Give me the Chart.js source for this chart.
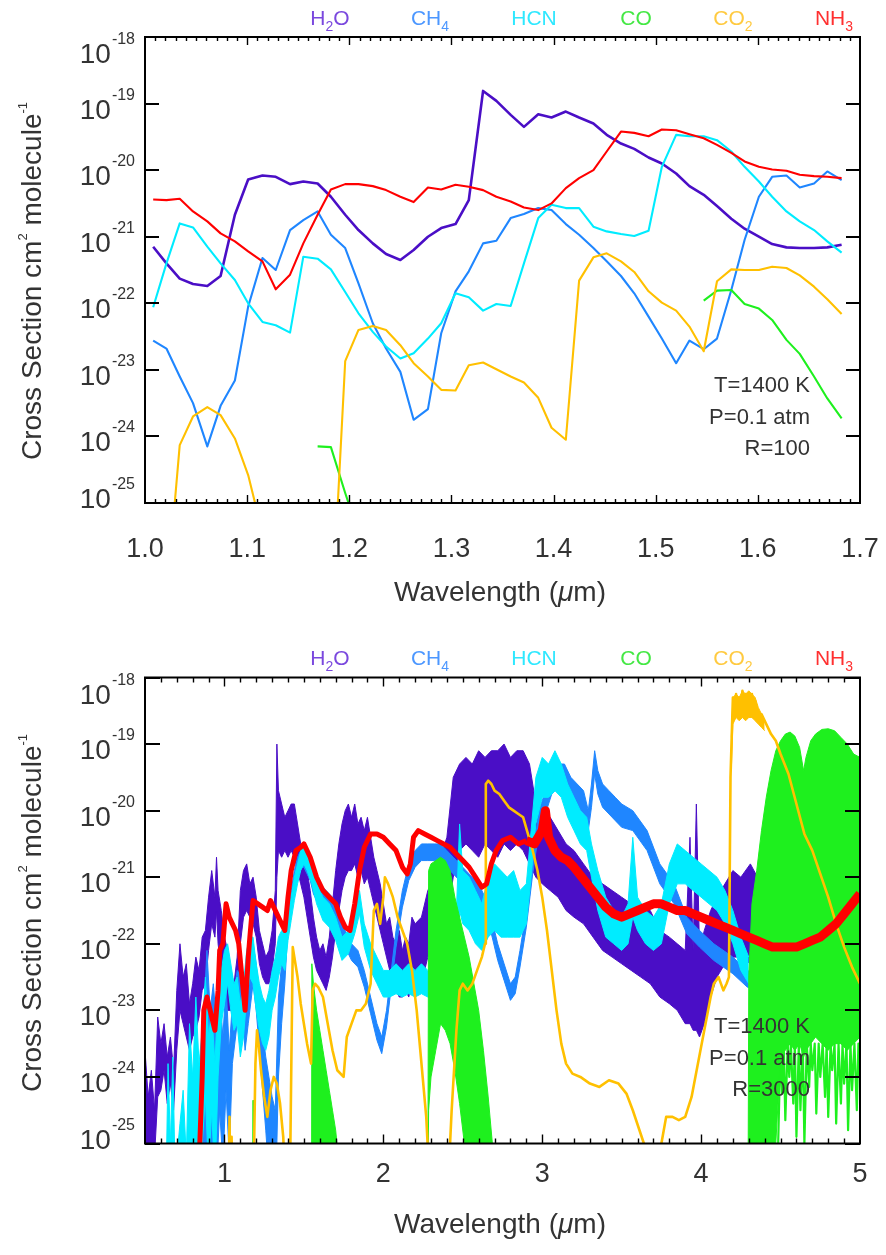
<!DOCTYPE html>
<html>
<head>
<meta charset="utf-8">
<script src="https://cdn.jsdelivr.net/npm/chart.js@4.4.1/dist/chart.umd.min.js"></script>
<style>
  html, body { margin: 0; padding: 0; background: #fff; }
  body { width: 886px; height: 1255px; position: relative; overflow: hidden; }
  canvas { position: absolute; left: 0; }
  #topChart { top: 0; }
  #botChart { top: 620px; }
</style>
</head>
<body>
<canvas id="topChart" width="886" height="620" style="width:886px;height:620px"></canvas>
<canvas id="botChart" width="886" height="635" style="width:886px;height:635px"></canvas>
<script>
// ---------------------------------------------------------------
// Molecular cross sections, T = 1400 K, P = 0.1 atm.
// All cross sections are stored as log10(sigma / cm^2 molecule^-1).
// ---------------------------------------------------------------

const speciesLabels = ['H2O', 'CH4', 'HCN', 'CO', 'CO2', 'NH3'];

// ---------- Panel 1: R = 100, 1.0 - 1.7 um ----------
const topWl = [
  1.008, 1.021, 1.034, 1.047, 1.061, 1.074, 1.088, 1.101, 1.115, 1.128,
  1.142, 1.155, 1.169, 1.182, 1.196, 1.209, 1.223, 1.236, 1.250, 1.263,
  1.277, 1.290, 1.304, 1.317, 1.331, 1.344, 1.358, 1.371, 1.385, 1.398,
  1.412, 1.425, 1.439, 1.452, 1.466, 1.479, 1.493, 1.506, 1.520, 1.533,
  1.547, 1.560, 1.574, 1.587, 1.601, 1.614, 1.628, 1.641, 1.655, 1.668,
  1.682
];
const h2oTop = [
  -21.15, -21.40, -21.63, -21.71, -21.74, -21.59, -20.67, -20.14, -20.08, -20.10,
  -20.21, -20.17, -20.20, -20.40, -20.67, -20.90, -21.10, -21.26, -21.35, -21.20,
  -21.00, -20.87, -20.81, -20.45, -18.81, -18.96, -19.17, -19.35, -19.16, -19.21,
  -19.12, -19.21, -19.30, -19.47, -19.60, -19.68, -19.81, -19.90, -20.05, -20.24,
  -20.37, -20.54, -20.73, -20.88, -21.00, -21.11, -21.16, -21.17, -21.17, -21.16,
  -21.12
];
const ch4Top = [
  -22.56, -22.68, -23.10, -23.50, -24.15, -23.54, -23.16, -22.05, -21.32, -21.50,
  -20.90, -20.75, -20.62, -20.97, -21.17, -21.70, -22.30, -22.68, -23.03, -23.75,
  -23.59, -22.45, -21.82, -21.52, -21.10, -21.06, -20.72, -20.66, -20.57, -20.60,
  -20.81, -20.97, -21.17, -21.37, -21.59, -21.85, -22.20, -22.53, -22.90, -22.56,
  -22.69, -22.53, -21.80, -21.05, -20.40, -20.10, -20.08, -20.26, -20.20, -20.02,
  -20.15
];
const hcnTop = [
  -22.06, -21.40, -20.80, -20.86, -21.15, -21.40, -21.65, -22.00, -22.28, -22.33,
  -22.44, -21.30, -21.33, -21.49, -21.83, -22.15, -22.43, -22.65, -22.83, -22.75,
  -22.53, -22.30, -21.85, -21.91, -22.11, -22.01, -22.04, -21.40, -20.72, -20.52,
  -20.57, -20.57, -20.85, -20.92, -20.96, -20.99, -20.91, -19.95, -19.47, -19.49,
  -19.49, -19.55, -19.72, -19.95, -20.17, -20.40, -20.62, -20.77, -20.90, -21.07,
  -21.24
];
const coTop = [
  null, null, null, null, null, null, null, null, null, null,
  null, null, -24.15, -24.16, -24.85, -25.45, null, null, null, null,
  null, null, null, null, null, null, null, null, null, null,
  null, null, null, null, null, null, null, null, null, null,
  -21.96, -21.81, -21.80, -22.01, -22.08, -22.25, -22.55, -22.76, -23.10, -23.43,
  -23.73
];
const co2Top = [
  null, -26.45, -24.13, -23.70, -23.56, -23.68, -24.03, -24.58, -25.45, null,
  null, null, null, -27.00, -22.87, -22.40, -22.34, -22.40, -22.63, -22.90,
  -23.10, -23.30, -23.31, -22.93, -22.89, -22.99, -23.10, -23.19, -23.42, -23.87,
  -24.05, -21.66, -21.31, -21.25, -21.37, -21.53, -21.82, -21.99, -22.11, -22.35,
  -22.72, -21.67, -21.49, -21.50, -21.50, -21.45, -21.47, -21.58, -21.75, -21.94,
  -22.16
];
const nh3Top = [
  -20.44, -20.45, -20.43, -20.62, -20.77, -20.95, -21.07, -21.22, -21.37, -21.79,
  -21.57, -21.10, -20.67, -20.29, -20.21, -20.21, -20.24, -20.30, -20.40, -20.48,
  -20.26, -20.29, -20.22, -20.25, -20.30, -20.40, -20.47, -20.56, -20.60, -20.50,
  -20.27, -20.12, -20.00, -19.72, -19.42, -19.44, -19.49, -19.39, -19.40, -19.46,
  -19.52, -19.62, -19.74, -19.87, -19.95, -19.99, -20.01, -20.07, -20.09, -20.10,
  -20.12
];

// ---------- Panel 2: R = 3000, 0.5 - 5 um (upper / lower envelopes) ----------
const h2oBotWl = [
  0.50, 0.52, 0.54, 0.56, 0.58, 0.60, 0.62, 0.64, 0.66, 0.68,
  0.70, 0.72, 0.74, 0.76, 0.78, 0.80, 0.82, 0.84, 0.86, 0.88,
  0.90, 0.92, 0.94, 0.95, 0.96, 0.98, 1.00, 1.02, 1.04, 1.06,
  1.08, 1.10, 1.12, 1.14, 1.16, 1.18, 1.20, 1.22, 1.24, 1.26,
  1.28, 1.30, 1.32, 1.33, 1.34, 1.36, 1.38, 1.40, 1.42, 1.44,
  1.46, 1.48, 1.50, 1.52, 1.54, 1.56, 1.58, 1.60, 1.62, 1.64,
  1.66, 1.68, 1.70, 1.72, 1.74, 1.76, 1.78, 1.80, 1.82, 1.84,
  1.86, 1.88, 1.90, 1.92, 1.94, 1.96, 1.98, 2.00, 2.02, 2.04,
  2.06, 2.08, 2.10, 2.12, 2.14, 2.16, 2.18, 2.20, 2.24, 2.28,
  2.32, 2.36, 2.40, 2.44, 2.48, 2.52, 2.56, 2.60, 2.64, 2.68,
  2.72, 2.76, 2.80, 2.84, 2.88, 2.92, 2.96, 3.00, 3.05, 3.10,
  3.15, 3.20, 3.26, 3.32, 3.38, 3.44, 3.50, 3.56, 3.62, 3.68,
  3.74, 3.80, 3.85, 3.90, 3.93, 3.95, 3.97, 3.99, 4.02, 4.06,
  4.10, 4.15, 4.20, 4.25, 4.31, 4.40, 4.60, 4.80, 5.00
];
const h2oBotHi = [
  -23.6, -24.3, -23.9, -24.5, -23.1, -23.5, -23.2, -23.7, -23.4, -23.9,
  -22.7, -22.0, -22.5, -22.3, -22.9, -22.6, -22.2, -22.4, -21.9, -21.8,
  -21.3, -20.9, -21.3, -20.7, -21.2, -21.5, -21.9, -22.1, -22.4, -22.6,
  -22.2, -21.2, -20.9, -20.8, -21.1, -21.0, -21.3, -21.8, -22.0, -22.2,
  -22.1, -21.8, -21.2, -19.0, -19.7, -19.9, -20.1, -20.0, -19.9, -19.9,
  -20.2, -20.5, -20.7, -20.9, -21.2, -21.6, -21.9, -22.1, -22.0, -22.2,
  -21.9, -21.4, -20.9, -20.5, -20.2, -20.0, -19.9, -20.1, -19.9, -20.2,
  -20.1, -20.3, -20.1, -20.4, -20.7, -20.9, -21.1, -21.4, -21.7, -21.6,
  -21.9, -22.0, -21.8, -22.1, -21.9, -22.0, -21.6, -21.7, -21.6, -21.2,
  -21.0, -20.7, -20.4, -19.5, -19.3, -19.2, -19.3, -19.1, -19.2, -19.1,
  -19.1, -19.0, -19.2, -19.1, -19.1, -19.3, -19.9, -20.0, -20.1, -20.3,
  -20.5, -20.6, -20.8, -21.0, -21.1, -21.2, -21.3, -21.4, -21.5, -21.5,
  -21.8, -21.9, -22.0, -22.1, -20.4, -22.1, -19.9, -22.1, -21.8, -21.5,
  -21.3, -21.1, -20.9, -21.0, -20.8, -21.2, -21.4, -21.3, -21.2
];
const h2oBotLo = [
  -24.9, -25.2, -25.3, -25.2, -24.3, -24.2, -23.9, -24.4, -24.1, -24.5,
  -23.6, -23.0, -23.2, -23.4, -23.6, -23.4, -23.3, -23.1, -22.7, -22.6,
  -22.1, -21.7, -21.9, -21.5, -22.0, -22.4, -22.8, -23.0, -23.0, -23.1,
  -22.9, -22.0, -21.6, -21.5, -21.6, -21.7, -21.9, -22.3, -22.5, -22.6,
  -22.6, -22.4, -22.0, -21.0, -20.6, -20.7, -20.6, -20.7, -20.6, -20.7,
  -20.9, -21.1, -21.3, -21.6, -21.9, -22.2, -22.4, -22.5, -22.6, -22.7,
  -22.5, -22.2, -21.8, -21.5, -21.2, -21.0, -20.9, -20.9, -20.8, -21.0,
  -20.9, -21.1, -21.0, -21.2, -21.4, -21.6, -21.8, -22.0, -22.2, -22.4,
  -22.5, -22.7, -22.8, -22.8, -22.7, -22.8, -22.6, -22.7, -22.6, -22.2,
  -22.0, -21.8, -21.6, -21.0, -20.6, -20.5, -20.6, -20.7, -20.5, -20.6,
  -20.7, -20.5, -20.6, -20.5, -20.6, -20.8, -21.0, -21.1, -21.2, -21.3,
  -21.5, -21.6, -21.7, -21.9, -22.1, -22.2, -22.3, -22.4, -22.5, -22.6,
  -22.8, -22.9, -23.0, -23.2, -23.2, -23.3, -23.3, -23.4, -23.2, -22.8,
  -22.5, -22.3, -22.2, -22.2, -22.3, -22.4, -22.5, -22.4, -22.3
];

const ch4BotWl = [
  0.86, 0.87, 0.89, 0.91, 0.93, 0.95, 0.97, 0.99, 1.01, 1.03,
  1.05, 1.08, 1.11, 1.13, 1.15, 1.18, 1.20, 1.22, 1.24, 1.26,
  1.28, 1.30, 1.32, 1.34, 1.36, 1.38, 1.40, 1.42, 1.44, 1.46,
  1.48, 1.50, 1.52, 1.54, 1.56, 1.58, 1.60, 1.64, 1.68, 1.72,
  1.76, 1.80, 1.84, 1.88, 1.92, 1.96, 1.99, 2.02, 2.05, 2.08,
  2.12, 2.16, 2.20, 2.24, 2.28, 2.32, 2.36, 2.40, 2.44, 2.48,
  2.52, 2.56, 2.60, 2.64, 2.68, 2.72, 2.76, 2.80, 2.83, 2.86,
  2.90, 2.94, 2.98, 3.02, 3.06, 3.10, 3.14, 3.18, 3.22, 3.26,
  3.29, 3.31, 3.33, 3.35, 3.38, 3.42, 3.46, 3.50, 3.57, 3.66,
  3.74, 3.83, 3.91, 3.99, 4.08, 4.20, 4.29, 4.40, 4.50, 4.60,
  4.70
];
const ch4BotHi = [
  -26.0, -23.0, -22.1, -23.0, -22.6, -23.2, -22.7, -23.4, -22.6, -23.6,
  -22.9, -22.4, -22.5, -22.8, -22.4, -22.0, -22.3, -22.8, -23.3, -23.7,
  -24.0, -24.3, -24.5, -22.8, -22.3, -21.9, -21.5, -21.2, -20.9, -20.7,
  -20.6, -20.6, -20.7, -20.8, -21.0, -21.1, -21.1, -21.2, -21.3, -21.5,
  -21.8, -22.0, -22.1, -22.4, -22.8, -23.2, -23.4, -23.0, -22.4, -21.8,
  -21.2, -20.8, -20.6, -20.5, -20.5, -20.5, -20.5, -20.6, -20.7, -20.8,
  -20.9, -21.0, -21.1, -21.3, -21.6, -22.0, -22.3, -22.6, -22.5, -22.1,
  -21.5, -20.7, -20.0, -19.7, -19.4, -19.3, -19.3, -19.5, -19.6, -19.7,
  -20.0, -19.6, -19.1, -19.4, -19.6, -19.7, -19.8, -19.9, -20.0, -20.3,
  -20.8, -21.1, -21.6, -21.8, -22.0, -22.2, -22.4, -22.5, -22.6, -22.7,
  -22.8
];
const ch4BotLo = [
  -26.0, -25.5, -25.2, -25.5, -25.3, -25.5, -24.5, -25.3, -24.2, -25.2,
  -23.8, -23.2, -23.0, -23.6, -23.2, -22.6, -23.0, -23.6, -24.2, -24.8,
  -25.5, -26.0, -26.0, -24.0, -23.2, -22.6, -21.75, -21.45, -21.15, -20.95,
  -20.85, -20.85, -20.95, -21.05, -21.25, -21.35, -21.35, -21.45, -21.55, -21.75,
  -22.05, -22.25, -22.35, -22.65, -23.05, -23.45, -23.65, -23.25, -22.65, -22.05,
  -21.45, -21.05, -20.85, -20.75, -20.75, -20.75, -20.75, -20.85, -20.95, -21.05,
  -21.15, -21.25, -21.35, -21.55, -21.85, -22.25, -22.55, -22.85, -22.75, -22.35,
  -21.75, -20.95, -20.30, -20.05, -19.75, -19.65, -19.65, -19.85, -19.95, -20.05,
  -20.30, -19.95, -19.45, -19.75, -19.95, -20.05, -20.15, -20.25, -20.30, -20.60,
  -21.10, -21.40, -21.85, -22.05, -22.25, -22.45, -22.65, -22.75, -22.85, -22.95,
  -23.05
];

const hcnBotWl = [
  0.63, 0.645, 0.66, 0.675, 0.69, 0.72, 0.74, 0.76, 0.78, 0.80,
  0.82, 0.84, 0.86, 0.88, 0.90, 0.92, 0.94, 0.96, 0.98, 1.00,
  1.02, 1.04, 1.06, 1.08, 1.10, 1.12, 1.14, 1.16, 1.18, 1.20,
  1.22, 1.24, 1.26, 1.28, 1.30, 1.32, 1.34, 1.36, 1.38, 1.40,
  1.42, 1.44, 1.46, 1.48, 1.50, 1.52, 1.55, 1.58, 1.62, 1.66,
  1.70, 1.74, 1.78, 1.82, 1.85, 1.88, 1.92, 1.96, 2.00, 2.04,
  2.08, 2.12, 2.16, 2.20, 2.24, 2.28, 2.34, 2.40, 2.46, 2.48,
  2.50, 2.54, 2.58, 2.62, 2.66, 2.70, 2.74, 2.78, 2.82, 2.86,
  2.90, 2.93, 2.96, 3.00, 3.04, 3.08, 3.12, 3.16, 3.20, 3.24,
  3.28, 3.31, 3.35, 3.40, 3.45, 3.50, 3.54, 3.57, 3.60, 3.65,
  3.70, 3.75, 3.80, 3.85, 3.90, 3.95, 4.00, 4.05, 4.10, 4.15,
  4.20, 4.25, 4.30
];
const hcnBotHi = [
  -26.0, -23.8, -25.0, -23.7, -25.5, -24.7, -24.2, -25.2, -23.2, -24.0,
  -22.8, -23.8, -23.3, -22.5, -23.4, -23.0, -23.8, -22.8, -22.4, -22.1,
  -22.0, -22.3, -22.6, -22.5, -22.9, -22.6, -22.1, -21.9, -21.9, -22.3,
  -22.6, -22.8, -22.9, -22.7, -22.4, -22.2, -21.9, -21.8, -21.8, -21.6,
  -21.3, -21.0, -20.8, -20.6, -20.5, -20.6, -20.8, -21.1, -21.3, -21.4,
  -21.6, -21.9, -21.8, -21.5, -21.2, -21.7, -22.0, -22.2, -22.4, -22.4,
  -22.3, -22.4, -22.3, -22.4, -22.3, -22.4, -22.5, -22.5, -21.5, -20.2,
  -20.9, -21.0, -21.2, -21.4, -21.0, -20.8, -20.9, -21.0, -20.9, -21.2,
  -21.1, -20.3, -19.5, -19.2, -19.3, -19.1, -19.3, -19.6, -19.8, -20.0,
  -20.1, -20.5, -20.9, -21.3, -21.5, -21.6, -21.4, -20.4, -21.3, -21.5,
  -21.6, -21.4, -20.8, -20.5, -20.6, -20.7, -20.8, -20.9, -21.0, -21.2,
  -21.5, -21.9, -22.2
];
const hcnBotLo = [
  -26.0, -26.0, -26.0, -26.0, -26.0, -26.0, -26.0, -26.0, -25.5, -26.0,
  -25.2, -25.8, -25.0, -24.3, -25.4, -24.5, -25.6, -24.0, -23.2, -22.9,
  -22.6, -23.0, -23.3, -23.2, -23.7, -23.4, -22.8, -22.5, -22.6, -23.0,
  -23.3, -23.5, -23.6, -23.4, -23.0, -22.8, -22.5, -22.3, -22.4, -21.95,
  -21.65, -21.35, -21.10, -20.90, -20.80, -20.90, -21.10, -21.40, -21.65, -21.75,
  -21.95, -22.25, -22.15, -21.85, -21.55, -22.05, -22.40, -22.60, -22.80, -22.80,
  -22.75, -22.80, -22.75, -22.80, -22.75, -22.80, -22.90, -22.90, -22.6, -21.5,
  -21.7, -21.8, -22.0, -22.1, -21.9, -21.8, -21.9, -21.9, -21.9, -21.9,
  -21.7, -21.0, -20.2, -19.8, -19.8, -19.7, -19.8, -20.1, -20.3, -20.5,
  -20.6, -21.0, -21.5, -21.9, -22.0, -22.1, -22.0, -21.6, -21.8, -22.0,
  -22.1, -22.0, -21.4, -21.1, -21.1, -21.2, -21.3, -21.4, -21.5, -21.7,
  -22.0, -22.4, -22.6
];

const coBotWl = [
  1.176, 1.180, 1.184, 1.19,
  1.545, 1.55, 1.56, 1.57, 1.58, 1.60, 1.62, 1.64, 1.66, 1.68, 1.70, 1.72, 1.73,
  2.28, 2.285, 2.30, 2.33, 2.36, 2.39, 2.42, 2.45, 2.48, 2.51, 2.54, 2.57, 2.60, 2.63, 2.66, 2.69, 2.70, 2.71,
  4.295, 4.30, 4.32, 4.35, 4.38, 4.41, 4.44, 4.47, 4.50, 4.53, 4.56, 4.59, 4.62, 4.645, 4.66, 4.69, 4.72, 4.76, 4.80, 4.84, 4.88, 4.92, 4.96, 5.00
];
const coBotHi = [
  -26.0, -24.35, -26.0, null,
  -26.0, -22.3, -22.6, -22.8, -23.0, -23.3, -23.6, -23.9, -24.2, -24.5, -24.8, -25.3, null,
  -26.0, -20.9, -20.8, -20.75, -20.7, -20.75, -20.9, -21.3, -21.6, -21.9, -22.2, -22.6, -23.0, -23.6, -24.3, -25.1, -26.0, null,
  -26.0, -22.5, -21.4, -20.9, -20.3, -19.8, -19.4, -19.1, -18.95, -18.85, -18.82, -18.88, -19.05, -19.4, -19.2, -18.95, -18.85, -18.78, -18.77, -18.8, -18.9, -19.0, -19.15, -19.2
];
const coBotLo = [
  -26.0, -26.0, -26.0, null,
  -26.0, -26.0, -26.0, -26.0, -26.0, -26.0, -26.0, -26.0, -26.0, -26.0, -26.0, -26.0, null,
  -26.0, -24.5, -24.0, -23.6, -23.2, -23.3, -23.5, -23.9, -24.4, -25.0, -26.0, -26.0, -26.0, -26.0, -26.0, -26.0, -26.0, null,
  -26.0, -26.0, -26.0, -26.0, -26.0, -26.0, -26.0, -25.0, -23.7, -23.6, -23.5, -23.6, -23.5, -23.7, -23.6, -23.5, -23.4, -23.5, -23.6, -23.5, -23.5, -23.6, -23.5, -23.4
];
// individual deep CO lines below the 4.6 um band
const coLineWl = [
  4.485, 4.500, 4.510, 4.520, 4.530, 4.545, 4.555, 4.565, 4.580, 4.590,
  4.600, 4.615, 4.625, 4.640, 4.650, 4.665, 4.680, 4.690, 4.700, 4.715,
  4.725, 4.740, 4.750, 4.765, 4.780, 4.790, 4.800, 4.815, 4.825, 4.840,
  4.850, 4.865, 4.880, 4.890, 4.900, 4.915, 4.925, 4.940, 4.950, 4.965,
  4.980, 4.990, 5.000
];
const coLineLog = [
  -25.0, -23.5, -24.25, -23.5, -24.65, -23.5, -24.0, -23.5, -24.4, -23.5,
  -24.9, -23.5, -24.5, -23.5, -25.0, -23.5, -24.15, -23.5, -23.9, -23.5,
  -24.55, -23.5, -24.0, -23.5, -24.3, -23.5, -24.6, -23.5, -23.9, -23.5,
  -24.7, -23.5, -24.4, -23.5, -24.1, -23.5, -24.8, -23.5, -24.2, -23.5,
  -24.5, -23.5, -24.0
];

const co2BotWl = [
  1.025, 1.032, 1.038, 1.045, 1.052, 1.06, 1.18, 1.195, 1.205, 1.215,
  1.23, 1.25, 1.27, 1.29, 1.31, 1.33, 1.35, 1.37, 1.39, 1.40,
  1.41, 1.425, 1.43, 1.44, 1.46, 1.48, 1.50, 1.52, 1.545, 1.555,
  1.57, 1.59, 1.62, 1.65, 1.68, 1.71, 1.75, 1.77, 1.80, 1.83,
  1.86, 1.89, 1.92, 1.94, 1.96, 1.98, 2.00, 2.01, 2.03, 2.06,
  2.09, 2.12, 2.15, 2.18, 2.21, 2.24, 2.27, 2.30, 2.35, 2.40,
  2.43, 2.46, 2.48, 2.50, 2.53, 2.56, 2.59, 2.62, 2.64, 2.645,
  2.66, 2.68, 2.70, 2.73, 2.76, 2.79, 2.82, 2.85, 2.88, 2.91,
  2.94, 2.97, 3.00, 3.03, 3.06, 3.09, 3.12, 3.15, 3.19, 3.24,
  3.30, 3.36, 3.42, 3.48, 3.53, 3.57, 3.64, 3.68, 3.70, 3.72,
  3.75, 3.78, 3.82, 3.86, 3.90, 3.94, 3.98, 4.02, 4.06, 4.08,
  4.11, 4.14, 4.16, 4.175, 4.185, 4.20, 4.21, 4.22, 4.23, 4.24,
  4.25, 4.26, 4.27, 4.28, 4.29, 4.30, 4.31, 4.32, 4.33, 4.34,
  4.36, 4.38, 4.41, 4.44, 4.47, 4.50, 4.55, 4.60, 4.65, 4.70,
  4.75, 4.80, 4.85, 4.90, 4.95, 5.00
];
const co2Bot = [
  -26.0, -24.6, -26.0, -24.9, -26.0, null, -26.0, -23.8, -23.3, -23.5,
  -23.9, -24.3, -24.6, -24.2, -24.0, -24.1, -24.4, -24.9, -26.0, null,
  -26.0, -23.0, -22.05, -22.2, -22.5, -22.9, -23.2, -23.5, -23.8, -22.7,
  -22.6, -22.65, -22.8, -23.2, -23.6, -23.9, -24.0, -23.4, -23.2, -23.0,
  -23.0, -22.9, -22.6, -21.5, -21.4, -21.7, -21.3, -21.0, -21.1, -21.3,
  -21.6, -21.8, -22.0, -22.4, -23.0, -23.8, -24.6, -26.0, null, -26.0,
  -24.5, -23.3, -22.7, -22.6, -22.7, -22.6, -22.4, -22.2, -22.0, -19.6,
  -19.55, -19.6, -19.7, -19.75, -19.85, -19.95, -20.0, -20.05, -20.1, -20.35,
  -20.6, -20.9, -21.3, -21.8, -22.4, -23.0, -23.5, -23.8, -23.95, -24.0,
  -24.1, -24.15, -24.05, -24.1, -24.25, -24.5, -25.0, -26.0, null, -26.0,
  -25.0, -24.6, -24.6, -24.65, -24.6, -24.3, -23.8, -23.3, -22.8, -22.6,
  -22.5, -22.7, -22.6, -22.5, -19.5, -18.3, -18.6, -18.25, -18.55, -18.3,
  -18.6, -18.2, -18.55, -18.25, -18.6, -18.3, -18.55, -18.25, -18.6, -18.35,
  -18.6, -18.55, -18.7, -18.85, -18.95, -19.15, -19.45, -19.9, -20.35, -20.6,
  -20.95, -21.3, -21.7, -22.05, -22.35, -22.6
];
// 4.3 um CO2 band head: upper / lower envelope of the dense lines
const co2PeakWl = [4.19, 4.20, 4.22, 4.24, 4.26, 4.28, 4.30, 4.32, 4.34, 4.36, 4.38, 4.40];
const co2PeakHi = [-18.9, -18.3, -18.25, -18.3, -18.2, -18.25, -18.2, -18.25, -18.3, -18.45, -18.55, -18.65];
const co2PeakLo = [-19.4, -18.7, -18.6, -18.65, -18.6, -18.65, -18.6, -18.6, -18.65, -18.7, -18.75, -18.8];

const nh3BotWl = [
  0.83, 0.845, 0.86, 0.87, 0.89, 0.91, 0.93, 0.94, 0.96, 0.97,
  0.99, 1.01, 1.03, 1.05, 1.07, 1.09, 1.11, 1.13, 1.15, 1.16,
  1.18, 1.21, 1.24, 1.27, 1.29, 1.31, 1.33, 1.36, 1.38, 1.40,
  1.42, 1.45, 1.48, 1.50, 1.54, 1.58, 1.62, 1.66, 1.70, 1.73,
  1.76, 1.79, 1.82, 1.85, 1.88, 1.92, 1.96, 2.00, 2.04, 2.08,
  2.12, 2.15, 2.17, 2.19, 2.22, 2.26, 2.30, 2.34, 2.38, 2.42,
  2.46, 2.50, 2.54, 2.58, 2.62, 2.65, 2.68, 2.71, 2.75, 2.80,
  2.85, 2.90, 2.95, 3.00, 3.02, 3.04, 3.08, 3.12, 3.16, 3.20,
  3.25, 3.30, 3.35, 3.40, 3.45, 3.50, 3.55, 3.60, 3.65, 3.70,
  3.75, 3.80, 3.85, 3.90, 3.95, 4.00, 4.05, 4.10, 4.15, 4.20,
  4.25, 4.30, 4.35, 4.40, 4.45, 4.50, 4.55, 4.60, 4.65, 4.70,
  4.75, 4.80, 4.85, 4.90, 4.95, 5.00
];
const nh3Bot = [
  -26.0, -25.0, -24.0, -23.0, -22.8, -23.0, -23.2, -23.3, -22.7, -22.1,
  -22.0, -21.4, -21.6, -21.7, -21.8, -22.0, -22.5, -23.0, -22.2, -21.9,
  -21.35, -21.4, -21.45, -21.5, -21.35, -21.45, -21.55, -21.7, -21.8, -21.3,
  -20.9, -20.6, -20.55, -20.5, -20.7, -21.0, -21.2, -21.3, -21.4, -21.6,
  -21.75, -21.8, -21.4, -20.9, -20.55, -20.35, -20.35, -20.4, -20.5, -20.6,
  -20.85, -20.95, -20.8, -20.4, -20.3, -20.35, -20.4, -20.45, -20.5, -20.55,
  -20.65, -20.75, -20.85, -21.0, -21.15, -21.1, -20.8, -20.6, -20.45, -20.4,
  -20.5, -20.45, -20.5, -20.3, -20.0, -20.4, -20.6, -20.7, -20.75, -20.85,
  -21.0, -21.15, -21.3, -21.45, -21.55, -21.6, -21.55, -21.5, -21.45, -21.4,
  -21.4, -21.45, -21.5, -21.5, -21.55, -21.6, -21.65, -21.7, -21.75, -21.8,
  -21.85, -21.9, -21.95, -22.0, -22.05, -22.05, -22.05, -22.05, -22.0, -21.95,
  -21.9, -21.8, -21.7, -21.55, -21.4, -21.25
];

// ---------- Axis ticks and labels ----------
const yExponents = [-18, -19, -20, -21, -22, -23, -24, -25];
const topXTicks = [1.0, 1.1, 1.2, 1.3, 1.4, 1.5, 1.6, 1.7];
const topXLabels = ['1.0', '1.1', '1.2', '1.3', '1.4', '1.5', '1.6', '1.7'];
const botXTicks = [1, 2, 3, 4, 5];
const botXLabels = ['1', '2', '3', '4', '5'];
const topNotes = ['T=1400 K', 'P=0.1 atm', 'R=100'];
const botNotes = ['T=1400 K', 'P=0.1 atm', 'R=3000'];

// ---------- styling ----------
const FONT = '"Liberation Sans", Arial, Helvetica, sans-serif';
const lineColors = ['#4a0ec6', '#1f86ff', '#00ecff', '#1ef01e', '#ffc000', '#ff0000'];
const labelColors = ['#7a48de', '#4c97ff', '#2ee8ff', '#44e844', '#ffca40', '#ff3030'];
const legendX = [330, 430, 534, 636, 733, 834];

const toPoints = (wl, lg) => wl.map((w, i) => ({ x: w, y: lg[i] === null ? null : Math.pow(10, lg[i]) }));

function lineSet(wl, lg, color, width, order) {
  return { data: toPoints(wl, lg), borderColor: color, borderWidth: width, fill: false,
           order: order, clip: 0, spanGaps: false, pointRadius: 0 };
}
function bandSets(wl, hi, lo, color, order) {
  return [
    { data: toPoints(wl, hi), borderColor: color, borderWidth: 1, fill: false,
      order: order, clip: 0, spanGaps: false, pointRadius: 0 },
    { data: toPoints(wl, lo), borderColor: color, borderWidth: 1, fill: '-1',
      backgroundColor: color, order: order, clip: 0, spanGaps: false, pointRadius: 0 }
  ];
}

function drawFormula(ctx, text, cx, baseline, size, color) {
  const runs = [];
  for (const ch of text) {
    const sub = /[0-9]/.test(ch);
    if (runs.length && runs[runs.length - 1].sub === sub) runs[runs.length - 1].t += ch;
    else runs.push({ t: ch, sub });
  }
  const subSize = Math.round(size * 0.66);
  let total = 0;
  runs.forEach(r => { ctx.font = `${r.sub ? subSize : size}px ${FONT}`; r.w = ctx.measureText(r.t).width; total += r.w; });
  let x = cx - total / 2;
  ctx.fillStyle = color; ctx.textAlign = 'left'; ctx.textBaseline = 'alphabetic';
  runs.forEach(r => {
    ctx.font = `${r.sub ? subSize : size}px ${FONT}`;
    ctx.fillText(r.t, x, baseline + (r.sub ? size * 0.28 : 0));
    x += r.w;
  });
}

const decorPlugin = {
  id: 'decor',
  afterDraw(chart, args, o) {
    const { ctx, chartArea: a } = chart;
    const xs = chart.scales.x, ys = chart.scales.y;
    ctx.save();
    // frame
    ctx.strokeStyle = '#000';
    ctx.lineWidth = 2;
    ctx.strokeRect(a.left, a.top, a.right - a.left, a.bottom - a.top);

    // x ticks (minor + major), bottom and top
    ctx.lineWidth = 1.4;
    ctx.beginPath();
    const n = Math.round((o.xMax - o.xMin) / o.minorStep);
    for (let k = 1; k < n; k++) {
      const v = o.xMin + k * o.minorStep;
      const major = o.xTicks.some(t => Math.abs(t - v) < 1e-6);
      const len = major ? o.majorLen : o.minorLen;
      const px = Math.round(xs.getPixelForValue(v)) + 0.5;
      ctx.moveTo(px, a.bottom); ctx.lineTo(px, a.bottom - len);
      ctx.moveTo(px, a.top); ctx.lineTo(px, a.top + len);
    }
    ctx.stroke();

    // y ticks, both sides
    ctx.lineWidth = 2;
    ctx.beginPath();
    yExponents.forEach(e => {
      const py = Math.round(ys.getPixelForValue(Math.pow(10, e)));
      ctx.moveTo(a.left, py); ctx.lineTo(a.left + o.yLen, py);
      ctx.moveTo(a.right, py); ctx.lineTo(a.right - o.yLen, py);
    });
    ctx.stroke();

    // y tick labels: 10^e
    ctx.fillStyle = '#333';
    ctx.textBaseline = 'alphabetic';
    yExponents.forEach((e, i) => {
      const py = ys.getPixelForValue(Math.pow(10, e));
      let base = py + 15;
      if (i === 0) base = py + 26;
      if (i === yExponents.length - 1) base = py + 5;
      const sup = '-' + String(-e);
      ctx.font = `16px ${FONT}`;
      const sw = ctx.measureText(sup).width;
      ctx.textAlign = 'right';
      ctx.fillText(sup, a.left - 10, base - 19);
      ctx.font = `28px ${FONT}`;
      ctx.fillText('10', a.left - 11 - sw, base);
    });

    // x tick labels
    ctx.font = `27px ${FONT}`;
    ctx.textAlign = 'center';
    o.xTicks.forEach((t, i) => {
      ctx.fillText(o.xLabels[i], xs.getPixelForValue(t), o.xLabelBase);
    });

    // x title: Wavelength (mu m)
    const p1 = 'Wavelength (', p2 = '\u03bc', p3 = 'm)';
    ctx.font = `28px ${FONT}`;
    const w1 = ctx.measureText(p1).width, w3 = ctx.measureText(p3).width;
    ctx.font = `italic 28px ${FONT}`;
    const w2 = ctx.measureText(p2).width;
    let tx = o.xTitleX - (w1 + w2 + w3) / 2;
    ctx.textAlign = 'left';
    ctx.font = `28px ${FONT}`; ctx.fillText(p1, tx, o.xTitleBase); tx += w1;
    ctx.font = `italic 28px ${FONT}`; ctx.fillText(p2, tx, o.xTitleBase); tx += w2;
    ctx.font = `28px ${FONT}`; ctx.fillText(p3, tx, o.xTitleBase);

    // y title, rotated
    const parts = [
      { t: 'Cross Section cm', s: 28, up: 0 },
      { t: '2', s: 13, up: 14 },
      { t: ' molecule', s: 28, up: 0 },
      { t: '-1', s: 13, up: 14 }
    ];
    let tw = 0;
    parts.forEach(p => { ctx.font = `${p.s}px ${FONT}`; p.w = ctx.measureText(p.t).width; tw += p.w; });
    ctx.save();
    ctx.translate(o.yTitleX, o.yTitleY);
    ctx.rotate(-Math.PI / 2);
    let rx = -tw / 2;
    parts.forEach(p => { ctx.font = `${p.s}px ${FONT}`; ctx.fillText(p.t, rx, -p.up); rx += p.w; });
    ctx.restore();

    // species key across the top
    speciesLabels.forEach((s, i) => drawFormula(ctx, s, legendX[i], o.keyBase, 21, labelColors[i]));

    // run conditions
    ctx.font = `22px ${FONT}`;
    ctx.fillStyle = '#333';
    ctx.textAlign = 'right';
    o.notes.forEach((t, i) => ctx.fillText(t, o.noteX, o.noteBase[i]));
    ctx.restore();
  }
};

function baseOptions(xmin, xmax, padding, decor) {
  return {
    responsive: false,
    animation: false,
    devicePixelRatio: 1,
    layout: { padding },
    scales: {
      x: { type: 'linear', min: xmin, max: xmax, display: false },
      y: { type: 'logarithmic', min: 1e-25, max: 1e-18, display: false }
    },
    elements: { point: { radius: 0 }, line: { tension: 0, borderJoinStyle: 'round', borderCapStyle: 'butt' } },
    plugins: { legend: { display: false }, tooltip: { enabled: false }, title: { display: false }, decor }
  };
}

// ---------- Panel 1 ----------
const topSeries = [h2oTop, ch4Top, hcnTop, coTop, co2Top, nh3Top];
const topDatasets = topSeries.map((s, i) =>
  lineSet(topWl, s, lineColors[i], i === 0 ? 2.6 : 2.1, 60 - i * 10));

new Chart(document.getElementById('topChart'), {
  type: 'line',
  data: { datasets: topDatasets },
  options: baseOptions(1.0, 1.7, { left: 145, right: 26, top: 37, bottom: 117 }, {
    xTicks: topXTicks, xLabels: topXLabels, xMin: 1.0, xMax: 1.7, minorStep: 0.01,
    majorLen: 8, minorLen: 4, yLen: 14,
    xLabelBase: 557, xTitleX: 500, xTitleBase: 601,
    yTitleX: 41, yTitleY: 281, keyBase: 25,
    notes: topNotes, noteX: 810, noteBase: [392, 424, 455]
  }),
  plugins: [decorPlugin]
});

// ---------- Panel 2 ----------
const nh3Set = lineSet(nh3BotWl, nh3Bot, lineColors[5], 8, 10);
nh3Set.segment = { borderWidth: c => (c.p0.parsed.x < 2.9 ? 5 : 9) };
const botDatasets = [
  ...bandSets(h2oBotWl, h2oBotHi, h2oBotLo, lineColors[0], 60),
  ...bandSets(ch4BotWl, ch4BotHi, ch4BotLo, lineColors[1], 50),
  ...bandSets(hcnBotWl, hcnBotHi, hcnBotLo, lineColors[2], 40),
  ...bandSets(coBotWl, coBotHi, coBotLo, lineColors[3], 30),
  lineSet(coLineWl, coLineLog, lineColors[3], 2.2, 30),
  ...bandSets(co2PeakWl, co2PeakHi, co2PeakLo, lineColors[4], 20),
  lineSet(co2BotWl, co2Bot, lineColors[4], 2.6, 20),
  nh3Set
];

new Chart(document.getElementById('botChart'), {
  type: 'line',
  data: { datasets: botDatasets },
  options: baseOptions(0.5, 5.0, { left: 145, right: 26, top: 57.5, bottom: 111.5 }, {
    xTicks: botXTicks, xLabels: botXLabels, xMin: 0.5, xMax: 5.0, minorStep: 0.1,
    majorLen: 9, minorLen: 5, yLen: 15,
    xLabelBase: 562, xTitleX: 500, xTitleBase: 613,
    yTitleX: 41, yTitleY: 293, keyBase: 45,
    notes: botNotes, noteX: 810, noteBase: [413, 445, 476]
  }),
  plugins: [decorPlugin]
});
</script>
</body>
</html>
